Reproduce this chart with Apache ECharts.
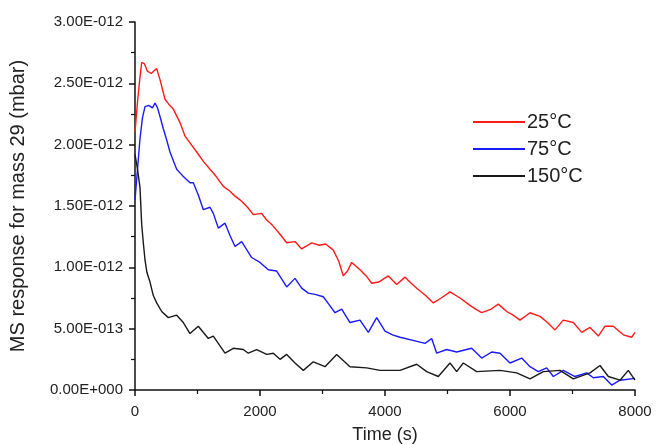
<!DOCTYPE html>
<html>
<head>
<meta charset="utf-8">
<script src="https://cdn.jsdelivr.net/npm/echarts@6/dist/echarts.min.js"></script>
<style>html,body{margin:0;padding:0;background:#fff}#c{width:656px;height:445px}</style>
</head>
<body>
<div id="c"></div>
<script>
// values in units of 1e-12 mbar
const seriesNames = ['25°C', '75°C', '150°C'];
const t25 = [0,40,80,107,150,197,260,300,347,400,480,540,613,720,800,900,987,1100,1200,1300,1413,1520,1600,1680,1800,1893,2027,2100,2187,2320,2427,2560,2667,2827,2950,3050,3173,3260,3333,3400,3467,3600,3700,3787,3900,4053,4187,4320,4420,4507,4650,4773,4900,5040,5200,5360,5450,5547,5700,5813,5947,6050,6160,6320,6480,6600,6720,6853,7013,7147,7280,7413,7520,7653,7813,7947,8000];
const v25 = [2.10,2.35,2.55,2.67,2.66,2.60,2.58,2.60,2.62,2.53,2.37,2.33,2.29,2.18,2.07,2.00,1.94,1.86,1.80,1.74,1.66,1.62,1.58,1.55,1.49,1.43,1.44,1.39,1.35,1.27,1.20,1.21,1.15,1.20,1.18,1.19,1.14,1.05,0.93,0.97,1.04,0.98,0.93,0.87,0.88,0.93,0.86,0.92,0.87,0.83,0.77,0.71,0.75,0.80,0.75,0.69,0.66,0.63,0.66,0.70,0.64,0.61,0.57,0.63,0.60,0.55,0.49,0.57,0.55,0.47,0.51,0.44,0.52,0.52,0.45,0.43,0.47];
const t75 = [0,40,80,120,160,220,280,320,360,400,453,500,560,620,667,720,773,880,933,1013,1093,1200,1253,1333,1440,1520,1600,1707,1867,2000,2133,2267,2427,2560,2667,2773,2880,3013,3100,3200,3307,3440,3600,3733,3867,4000,4120,4240,4480,4640,4747,4827,4987,5147,5387,5547,5707,5840,6000,6187,6320,6453,6587,6693,6853,7040,7227,7333,7493,7627,7760,8000];
const v75 = [1.55,1.80,2.05,2.22,2.31,2.32,2.30,2.34,2.30,2.23,2.13,2.05,1.94,1.86,1.80,1.77,1.74,1.69,1.69,1.59,1.47,1.49,1.44,1.32,1.36,1.26,1.17,1.21,1.08,1.04,0.98,0.97,0.84,0.91,0.83,0.79,0.78,0.76,0.70,0.63,0.66,0.55,0.57,0.47,0.59,0.48,0.45,0.43,0.40,0.38,0.42,0.30,0.33,0.31,0.34,0.26,0.31,0.30,0.22,0.26,0.19,0.15,0.18,0.11,0.16,0.11,0.14,0.10,0.11,0.04,0.08,0.095];
const t150 = [0,40,80,107,133,160,190,240,293,347,427,533,600,667,773,880,1013,1173,1253,1440,1573,1733,1813,1947,2107,2213,2320,2427,2560,2693,2853,3040,3227,3440,3707,3920,4240,4507,4667,4853,5040,5147,5253,5467,5840,6107,6320,6533,6800,7013,7280,7440,7573,7760,7893,8000];
const v150 = [1.92,1.80,1.65,1.35,1.20,1.06,0.96,0.88,0.77,0.71,0.64,0.59,0.60,0.61,0.55,0.46,0.52,0.42,0.44,0.30,0.34,0.33,0.30,0.33,0.29,0.30,0.25,0.29,0.22,0.16,0.23,0.19,0.29,0.19,0.18,0.16,0.16,0.21,0.15,0.11,0.22,0.15,0.22,0.15,0.16,0.14,0.09,0.15,0.16,0.09,0.14,0.20,0.11,0.08,0.16,0.08];
const xTicks = [0, 2000, 4000, 6000, 8000];
const yTickLabels = ['0.00E+000','5.00E-013','1.00E-012','1.50E-012','2.00E-012','2.50E-012','3.00E-012'];

function zip(t, v) { return t.map((x, i) => [x, v[i]]); }
const colors = ['#ff1a1a', '#1a1aff', '#1a1a1a'];
const chart = echarts.init(document.getElementById('c'), null, {renderer: 'canvas'});
const font = 'Arial, "Liberation Sans", sans-serif';
chart.setOption({
  animation: false,
  backgroundColor: '#fff',
  grid: {left: 135, right: 21, top: 22, bottom: 55, containLabel: false, outerBoundsMode: 'none'},
  legend: {
    data: seriesNames, orient: 'vertical', left: 468, top: 107,
    itemWidth: 52, itemHeight: 2, itemGap: 7, icon: 'rect',
    textStyle: {fontFamily: font, fontSize: 20, color: '#222', padding: [0,0,0,-3]}
  },
  xAxis: {
    type: 'value', min: 0, max: 8000, interval: 2000,
    name: 'Time (s)', nameLocation: 'middle', nameGap: 36,
    nameTextStyle: {fontFamily: font, fontSize: 18, color: '#222'},
    axisLine: {onZero: false, lineStyle: {color: '#111', width: 1.5}},
    axisTick: {inside: false, length: 6, lineStyle: {color: '#111', width: 1.5}},
    minorTick: {show: true, splitNumber: 2, length: 4, lineStyle: {color: '#111', width: 1.2}},
    axisLabel: {fontFamily: font, fontSize: 15, color: '#222', margin: 14,
      formatter: v => xTicks.includes(v) ? String(v) : ''},
    splitLine: {show: false}
  },
  yAxis: {
    type: 'value', min: 0, max: 3, interval: 0.5,
    name: 'MS response for mass 29 (mbar)', nameLocation: 'middle', nameGap: 107,
    nameTextStyle: {fontFamily: font, fontSize: 20, color: '#222'},
    axisLine: {lineStyle: {color: '#111', width: 1.5}},
    axisTick: {inside: false, length: 6, lineStyle: {color: '#111', width: 1.5}},
    minorTick: {show: true, splitNumber: 2, length: 4, lineStyle: {color: '#111', width: 1.2}},
    axisLabel: {fontFamily: font, fontSize: 15, color: '#222', margin: 12,
      formatter: v => yTickLabels[Math.round(v / 0.5)]},
    splitLine: {show: false}
  },
  series: [
    {name: seriesNames[0], type: 'line', data: zip(t25, v25), showSymbol: false, symbol: 'none', lineStyle: {color: colors[0], width: 1.4}, itemStyle: {color: colors[0]}},
    {name: seriesNames[1], type: 'line', data: zip(t75, v75), showSymbol: false, symbol: 'none', lineStyle: {color: colors[1], width: 1.4}, itemStyle: {color: colors[1]}},
    {name: seriesNames[2], type: 'line', data: zip(t150, v150), showSymbol: false, symbol: 'none', lineStyle: {color: colors[2], width: 1.4}, itemStyle: {color: colors[2]}}
  ]
});
</script>
</body>
</html>
